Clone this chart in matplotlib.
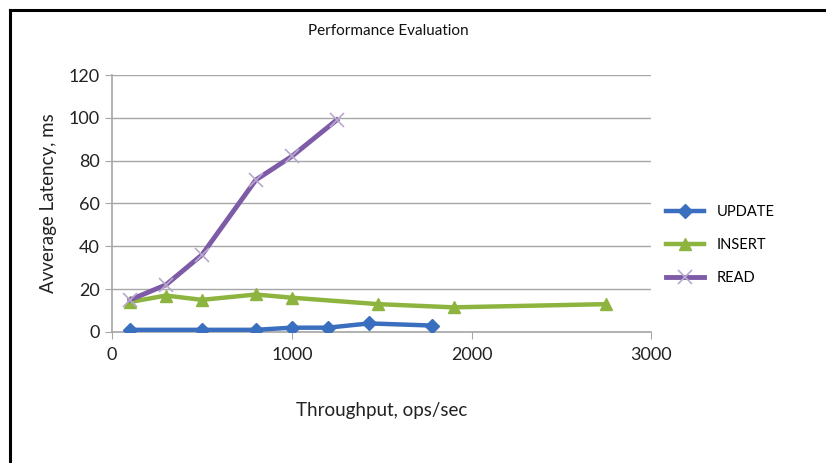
import matplotlib.pyplot as plt
from matplotlib.lines import Line2D

plt.rcParams['font.family'] = ['Lato', 'DejaVu Sans']

# throughput (ops/sec) and average latency (ms)
update_x = [100, 500, 800, 1000, 1200, 1430, 1780]
update_y = [1, 1, 1, 2, 2, 4, 3]
insert_x = [100, 300, 500, 800, 1000, 1480, 1900, 2750]
insert_y = [14, 17, 15, 17.5, 16, 13, 11.5, 13]
read_x = [100, 300, 500, 800, 1000, 1250]
read_y = [15, 22, 36, 71, 82, 99]

x_ticks = [0, 1000, 2000, 3000]
y_ticks = [0, 20, 40, 60, 80, 100, 120]

c_update = '#3A6FBF'
c_insert = '#8DB43E'
c_read = '#7D5BA6'
grid_c = '#A6A6A6'

fig = plt.figure(figsize=(8.26, 4.63), dpi=100)
fig.patch.set_facecolor('white')
ax = fig.add_axes([0.1356, 0.283, 0.653, 0.555])

# outer frame (left and top edges)
fig.add_artist(Line2D([0.012, 0.012], [0.0, 0.978], color='black', lw=2.2, transform=fig.transFigure))
fig.add_artist(Line2D([0.012, 1.0], [0.978, 0.978], color='black', lw=2.2, transform=fig.transFigure))

ax.plot(update_x, update_y, color=c_update, lw=3.2, marker='D', ms=7, label='UPDATE', zorder=3)
ax.plot(insert_x, insert_y, color=c_insert, lw=3.2, marker='^', ms=9, label='INSERT', zorder=3)
ax.plot(read_x, read_y, color=c_read, lw=3.5, marker='x', ms=10, mec='#B9A8D0', mew=1.2, label='READ', zorder=4)

ax.set_xlim(0, 3000)
ax.set_ylim(0, 120)
ax.set_xticks(x_ticks)
ax.set_yticks(y_ticks)
ax.tick_params(axis='both', labelsize=13, colors='#222222', length=5, color=grid_c, pad=4)
ax.tick_params(axis='x', pad=6)
ax.grid(True, axis='y', color=grid_c, lw=1)
ax.set_axisbelow(True)
for s in ['top', 'right']:
    ax.spines[s].set_visible(False)
for s in ['left', 'bottom']:
    ax.spines[s].set_color(grid_c)
    ax.spines[s].set_linewidth(1.2)

ax.set_xlabel('Throughput, ops/sec', fontsize=13.5, color='#222222', labelpad=28)
ax.set_ylabel('Avverage Latency, ms', fontsize=13.5, color='#222222', labelpad=8)
fig.text(0.47, 0.932, 'Performance Evaluation', fontsize=11, ha='center', va='center', color='#111111')

leg = fig.legend(loc='center left', bbox_to_anchor=(0.79, 0.47), frameon=False,
                 fontsize=10.5, handlelength=2.6, labelspacing=1.3, handletextpad=0.9)

fig.savefig('out.png', dpi=100, facecolor=fig.get_facecolor())
